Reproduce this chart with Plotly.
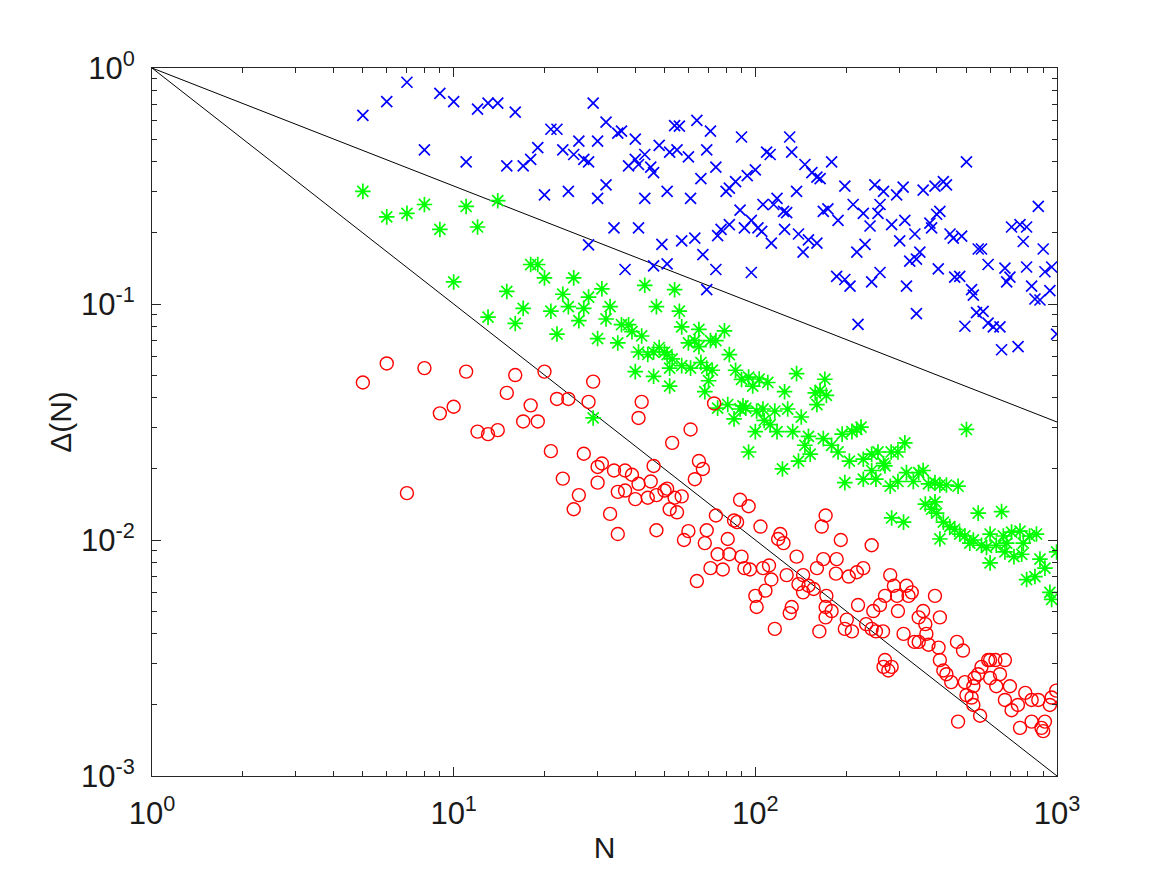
import plotly.graph_objects as go

# ---- data ----
blue_N = [5,6,7,8,9,10,11,12,13,14,16,15,17,18,19,20,21,22,23,25,26,24,27,28,
          29,32,30,35,36,40,28,32,30,38,40,41,43,45,46,48,52,55,51,54,43,34,41,37,46,49,51,
          56,64,71,90,60,69,74,66,61,94,100,86,82,80,89,92,97,57,63,75,77,82,67,74,69,97,102,106,
          130,109,112,132,146,154,160,164,137,118,115,124,127,168,105,113,125,139,150,160,144,
          179,198,249,266,211,228,240,255,259,174,188,217,231,186,198,206,243,259,219,
          294,309,360,394,283,313,338,379,384,399,301,325,342,351,317,404,342,
          501,420,430,409,442,453,483,548,562,591,458,476,521,528,541,569,495,591,
          867,707,754,793,773,900,672,698,681,793,824,912,960,947,845,878,615,647,655,743,997]
blue_D = [0.63,0.72,0.87,0.45,0.78,0.72,0.40,0.67,0.71,0.71,0.65,0.385,0.385,0.41,0.46,0.29,0.55,0.55,0.45,0.43,0.49,0.30,0.41,0.178,
          0.71,0.59,0.49,0.53,0.54,0.50,0.40,0.32,0.28,0.385,0.41,0.39,0.43,0.38,0.36,0.47,0.44,0.45,0.30,0.57,0.28,0.21,0.21,0.14,0.145,0.179,0.148,
          0.567,0.60,0.54,0.51,0.42,0.45,0.38,0.34,0.28,0.35,0.37,0.33,0.31,0.30,0.25,0.21,0.226,0.185,0.19,0.195,0.207,0.217,0.162,0.14,0.115,0.136,0.21,0.264,
          0.51,0.44,0.43,0.44,0.39,0.36,0.345,0.34,0.30,0.28,0.264,0.247,0.244,0.247,0.203,0.181,0.207,0.198,0.187,0.181,0.166,
          0.40,0.316,0.32,0.30,0.264,0.242,0.214,0.242,0.264,0.253,0.226,0.166,0.179,0.131,0.127,0.119,0.124,0.136,0.082,
          0.29,0.313,0.304,0.316,0.217,0.226,0.198,0.22,0.21,0.24,0.185,0.152,0.155,0.166,0.119,0.141,0.091,
          0.40,0.33,0.32,0.247,0.198,0.19,0.194,0.171,0.171,0.147,0.13,0.131,0.115,0.109,0.092,0.093,0.0805,0.083,
          0.259,0.212,0.217,0.212,0.184,0.171,0.142,0.13,0.124,0.1435,0.119,0.137,0.1435,0.114,0.105,0.104,0.080,0.080,0.064,0.066,0.0746]

green_N = [5,6,7,8,9,10,11,12,14,13,15,16,17,18,19,20,22,21,23,24,25,26,27,
           31,28,33,32,30,35,36,38,39,42,41,44,46,48,50,51,53,52,43,47,54,40,46,52,29,
           56,57,65,79,60,63,65,71,74,82,57,61,66,69,72,70,68,86,90,95,98,75,81,85,89,91,93,95,100,
           137,110,103,125,158,164,160,101,106,116,128,142,107,112,118,133,150,146,152,168,123,139,
           170,172,179,188,194,209,217,224,205,228,243,255,266,243,228,251,198,
           313,297,282,269,317,348,360,334,297,280,375,394,366,384,399,394,283,310,
           501,409,430,470,420,441,458,476,495,514,528,548,562,584,600,409,
           655,600,629,664,681,707,754,811,855,672,720,764,773,878,912,997,793,845,947,960]
green_D = [0.30,0.234,0.242,0.264,0.207,0.124,0.259,0.212,0.274,0.088,0.113,0.0827,0.0958,0.147,0.147,0.129,0.0746,0.0932,0.11,0.0975,0.129,0.085,0.0958,
           0.116,0.107,0.0975,0.0864,0.0714,0.0684,0.0817,0.0817,0.0764,0.0732,0.0626,0.0611,0.0626,0.0654,0.0626,0.061,0.0585,0.0535,0.12,0.0975,0.115,0.0517,0.0494,0.0449,0.0329,
           0.0932,0.080,0.078,0.077,0.0684,0.0699,0.066,0.07,0.07,0.061,0.0548,0.0535,0.0565,0.0535,0.0524,0.0473,0.0425,0.0524,0.0479,0.049,0.0449,0.0362,0.0375,0.0326,0.0359,0.037,0.0362,0.0236,0.0288,
           0.0507,0.0465,0.0481,0.0425,0.042,0.043,0.0375,0.0352,0.0359,0.0352,0.0359,0.0332,0.0321,0.0308,0.0288,0.0288,0.0275,0.0252,0.0231,0.0269,0.02,0.0216,
           0.048,0.041,0.0252,0.0236,0.0281,0.0288,0.0294,0.0301,0.0216,0.022,0.0231,0.0236,0.0211,0.0197,0.0181,0.0181,0.0175,
           0.0258,0.0236,0.0236,0.0206,0.0193,0.0193,0.0197,0.0177,0.0177,0.0169,0.0173,0.0175,0.0142,0.0135,0.013,0.0145,0.0124,0.0119,
           0.0294,0.0171,0.0171,0.0169,0.0119,0.0114,0.0111,0.0106,0.0104,0.0097,0.01,0.013,0.0095,0.0093,0.008,0.0101,
           0.0132,0.0106,0.0095,0.0104,0.0097,0.0108,0.0109,0.0104,0.0106,0.0089,0.0085,0.0087,0.0097,0.0083,0.0076,0.0089,0.0068,0.007,0.006,0.0056]

red_N = [5,6,7,8,9,10,11,12,13,14,15,16,17,19,18,20,22,24,21,23,26,25,27,
         29,28,42,41,30,31,34,37,39,30,35,37,41,45,46,53,47,50,51,54,40,44,52,33,47,35,55,
         61,73,65,67,63,57,89,95,74,85,87,60,58,69,68,81,75,82,90,92,96,71,78,64,100,
         104,121,119,124,166,137,106,111,113,127,144,160,168,139,150,156,144,108,101,132,130,116,163,172,171,
         171,192,243,186,185,204,217,228,219,179,171,201,209,198,233,243,246,251,259,266,265,
         280,288,295,269,317,322,330,394,297,348,360,366,369,310,337,348,375,405,269,276,283,409,
         466,488,409,420,430,446,591,495,528,533,548,562,501,521,528,556,470,
         600,625,672,647,600,629,698,672,785,742,824,867,994,960,947,707,824,912,888,900,754]
red_D = [0.0465,0.056,0.0158,0.0535,0.0344,0.0367,0.0517,0.0288,0.0281,0.0292,0.042,0.050,0.0318,0.0318,0.0372,0.0517,0.0396,0.0396,0.0238,0.0182,0.0155,0.0135,0.0232,
         0.0469,0.0385,0.0385,0.0329,0.0204,0.0211,0.0197,0.0197,0.0189,0.0175,0.016,0.0162,0.0173,0.0177,0.0206,0.0258,0.0155,0.0162,0.0165,0.0151,0.0149,0.0151,0.0135,0.0129,0.011,0.0106,0.0131,
         0.0294,0.0379,0.0216,0.02,0.0181,0.0153,0.0148,0.0139,0.0127,0.0121,0.0119,0.0109,0.01,0.011,0.0097,0.0101,0.0087,0.0087,0.0085,0.0076,0.0075,0.0076,0.0075,0.0067,0.0058,
         0.0114,0.0106,0.0101,0.0097,0.0114,0.0085,0.0076,0.0078,0.0068,0.0071,0.0071,0.0076,0.0083,0.0065,0.0064,0.0062,0.006,0.0061,0.0052,0.0052,0.0049,0.0042,0.0041,0.0058,0.0052,
         0.0127,0.01,0.0095,0.0083,0.0072,0.007,0.0073,0.0076,0.0053,0.005,0.0047,0.0046,0.0041,0.0042,0.0044,0.0042,0.005,0.0041,0.0053,0.0029,0.0041,
         0.0071,0.0064,0.0058,0.0058,0.0064,0.0058,0.006,0.0058,0.005,0.0047,0.005,0.0044,0.004,0.004,0.0037,0.0037,0.0036,0.0035,0.0031,0.0028,0.0029,0.0047,
         0.0037,0.0034,0.0031,0.0028,0.0027,0.0025,0.0031,0.0025,0.0024,0.0026,0.0027,0.0029,0.0022,0.00215,0.002,0.0018,0.0017,
         0.0031,0.0031,0.0031,0.0027,0.0026,0.0024,0.0024,0.0021,0.00225,0.002,0.0021,0.0021,0.0023,0.00215,0.002,0.0019,0.0017,0.0017,0.0016,0.00155,0.0016]

# reference lines N^-1/2 and N^-1
ref_N = [1, 1000]
ref_half = [1, 0.0316228]
ref_one = [1, 0.001]

x_tick_vals = [1, 10, 100, 1000]
x_tick_text = ["10<sup>0</sup>", "10<sup>1</sup>", "10<sup>2</sup>", "10<sup>3</sup>"]
y_tick_vals = [0.001, 0.01, 0.1, 1]
y_tick_text = ["10<sup>-3</sup>", "10<sup>-2</sup>", "10<sup>-1</sup>", "10<sup>0</sup>"]
x_minor_vals = [m * d for d in (1, 10, 100) for m in range(2, 10)]
y_minor_vals = [m * d for d in (0.001, 0.01, 0.1) for m in range(2, 10)]

AXIS_COLOR = "#262626"
FONT = "Arial"

fig = go.Figure()
fig.add_trace(go.Scatter(x=ref_N, y=ref_half, mode="lines",
                         line=dict(color="black", width=1), showlegend=False))
fig.add_trace(go.Scatter(x=ref_N, y=ref_one, mode="lines",
                         line=dict(color="black", width=1), showlegend=False))
fig.add_trace(go.Scatter(x=blue_N, y=blue_D, mode="markers",
                         marker=dict(symbol="x-thin-open", size=11, color="#0000ff",
                                     line=dict(color="#0000ff", width=1.7)),
                         showlegend=False))
fig.add_trace(go.Scatter(x=green_N, y=green_D, mode="markers",
                         marker=dict(symbol="asterisk-open", size=13, color="#00ff00",
                                     line=dict(color="#00ff00", width=1.7)),
                         showlegend=False))
fig.add_trace(go.Scatter(x=red_N, y=red_D, mode="markers",
                         marker=dict(symbol="circle-open", size=13, color="#ff0000",
                                     line=dict(color="#ff0000", width=1.4)),
                         showlegend=False))

tick_font = dict(family=FONT, size=31, color="#1a1a1a")
title_font = dict(family=FONT, size=30, color="#1a1a1a")

fig.update_xaxes(
    type="log", range=[0, 3], tickvals=x_tick_vals, ticktext=x_tick_text,
    showgrid=False, zeroline=False,
    showline=True, linecolor=AXIS_COLOR, linewidth=1, mirror="ticks",
    ticks="inside", ticklen=9, tickcolor=AXIS_COLOR, tickwidth=1,
    tickfont=tick_font, ticklabelstandoff=10,
    minor=dict(tickvals=x_minor_vals, ticks="inside", ticklen=5,
               tickcolor=AXIS_COLOR, tickwidth=1, showgrid=False),
    title=dict(text="N", font=title_font, standoff=6),
)
fig.update_yaxes(
    type="log", range=[-3, 0], tickvals=y_tick_vals, ticktext=y_tick_text,
    showgrid=False, zeroline=False,
    showline=True, linecolor=AXIS_COLOR, linewidth=1, mirror="ticks",
    ticks="inside", ticklen=9, tickcolor=AXIS_COLOR, tickwidth=1,
    tickfont=tick_font, ticklabelstandoff=10,
    minor=dict(tickvals=y_minor_vals, ticks="inside", ticklen=5,
               tickcolor=AXIS_COLOR, tickwidth=1, showgrid=False),
    title=dict(text="Δ(N)", font=title_font, standoff=0),
)

fig.update_layout(
    width=1167, height=875,
    margin=dict(l=152, r=110, t=68, b=99, pad=0),
    paper_bgcolor="white", plot_bgcolor="white",
    font=dict(family=FONT, size=30, color="#1a1a1a"),
)

fig.write_html("out.html")
